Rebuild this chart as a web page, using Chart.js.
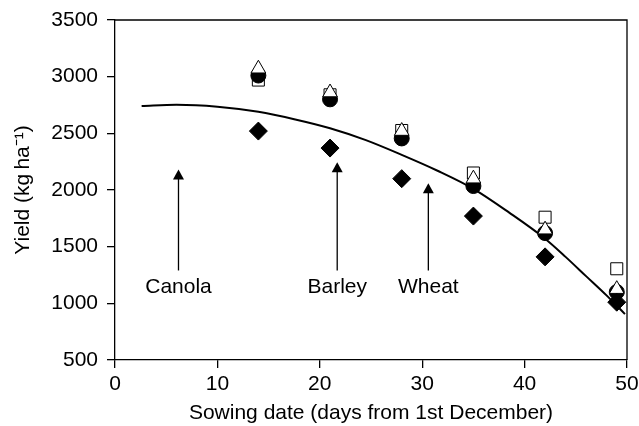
<!DOCTYPE html>
<html>
<head>
<meta charset="utf-8">
<script src="https://cdn.jsdelivr.net/npm/chart.js@4"></script>
<style>
  html, body { margin: 0; padding: 0; background: #fff; }
  #wrap { width: 639px; height: 426px; }
</style>
</head>
<body>
<div id="wrap"><canvas id="yield-chart"></canvas></div>
<script>
// sowing dates (days from 1st December)
var sowDays = [14, 21, 28, 35, 42, 49];

// yields per sowing date, kg/ha
var squareYield   = [2970, 2840, 2525, 2150, 1760, 1305];
var circleYield   = [3010, 2800, 2455, 2035, 1620, 1100];
var triangleYield = [3070, 2860, 2520, 2100, 1650, 1125];
var diamondYield  = [2520, 2370, 2100, 1770, 1410, 1010];

// fitted response curve
var fitDays  = [2.6, 6, 10, 14, 17.5, 21, 24.5, 28, 31.5, 35, 38.5, 42, 44, 46, 48, 49.8];
var fitYield = [2742, 2752, 2735, 2690, 2625, 2545, 2440, 2310, 2170, 2010, 1800, 1570, 1410, 1240, 1070, 905];

// crop arrows
var cropNames = ['Canola', 'Barley', 'Wheat'];
var cropDays  = [6.2, 21.7, 30.6];
var cropTips  = [2180, 2245, 2060];
var cropBase  = 1290;

var xTicks = [0, 10, 20, 30, 40, 50];
var yTicks = [500, 1000, 1500, 2000, 2500, 3000, 3500];

function pts(xs, ys) {
    return xs.map(function (x, i) { return { x: x, y: ys[i] }; });
}

var FONT = 'Liberation Sans, Arial, Helvetica, sans-serif';
var FSIZE = 21;

var cropArrows = {
    id: 'cropArrows',
    afterDatasetsDraw: function (chart) {
        var ctx = chart.ctx;
        var xs = chart.scales.x, ys = chart.scales.y;
        ctx.save();
        ctx.strokeStyle = '#000';
        ctx.fillStyle = '#000';
        ctx.lineWidth = 1.3;
        for (var i = 0; i < cropNames.length; i++) {
            var px = xs.getPixelForValue(cropDays[i]);
            var tip = ys.getPixelForValue(cropTips[i]);
            var base = ys.getPixelForValue(cropBase);
            ctx.beginPath();
            ctx.moveTo(px, base);
            ctx.lineTo(px, tip + 8);
            ctx.stroke();
            ctx.beginPath();
            ctx.moveTo(px, tip);
            ctx.lineTo(px - 5.5, tip + 10);
            ctx.lineTo(px + 5.5, tip + 10);
            ctx.closePath();
            ctx.fill();
            ctx.font = FSIZE + 'px ' + FONT;
            ctx.textAlign = 'center';
            ctx.textBaseline = 'middle';
            ctx.fillText(cropNames[i], px, base + 17);
        }
        ctx.restore();
    }
};

// closes the plot frame on top and right
var frame = {
    id: 'frame',
    afterDraw: function (chart) {
        var a = chart.chartArea, ctx = chart.ctx;
        ctx.save();
        ctx.strokeStyle = '#000';
        ctx.lineWidth = 1.3;
        ctx.beginPath();
        ctx.moveTo(a.left, a.top);
        ctx.lineTo(a.right, a.top);
        ctx.lineTo(a.right, a.bottom);
        ctx.stroke();
        ctx.restore();
    }
};

function plain(v) { return String(v); }

var ctx = document.getElementById('yield-chart');
var chart = new Chart(ctx, {
    type: 'scatter',
    data: {
        datasets: [{
            label: 'diamond',
            data: pts(sowDays, diamondYield),
            pointStyle: 'rectRot',
            pointRadius: 9,
            backgroundColor: '#000',
            borderColor: '#000',
            borderWidth: 1,
            order: 0
        }, {
            label: 'triangle',
            data: pts(sowDays, triangleYield),
            pointStyle: 'triangle',
            pointRadius: 8.5,
            backgroundColor: '#fff',
            borderColor: '#000',
            borderWidth: 1,
            order: 1
        }, {
            label: 'circle',
            data: pts(sowDays, circleYield),
            pointStyle: 'circle',
            pointRadius: 7.5,
            backgroundColor: '#000',
            borderColor: '#000',
            borderWidth: 1,
            order: 2
        }, {
            label: 'square',
            data: pts(sowDays, squareYield),
            pointStyle: 'rect',
            pointRadius: 8.5,
            backgroundColor: '#fff',
            borderColor: '#000',
            borderWidth: 1,
            order: 3
        }, {
            label: 'fit',
            type: 'line',
            data: pts(fitDays, fitYield),
            borderColor: '#000',
            borderWidth: 2,
            pointRadius: 0,
            fill: false,
            cubicInterpolationMode: 'monotone',
            order: 4
        }]
    },
    options: {
        responsive: true,
        maintainAspectRatio: false,
        animation: false,
        events: [],
        layout: { padding: { top: 20, right: 12, left: 0, bottom: 0 } },
        plugins: { legend: { display: false }, tooltip: { enabled: false } },
        scales: {
            x: {
                type: 'linear',
                min: 0, max: 50,
                afterBuildTicks: function (s) { s.ticks = xTicks.map(function (v) { return { value: v }; }); },
                afterFit: function (s) { s.height = 66; s.paddingLeft = 0; s.paddingRight = 0; },
                grid: { drawOnChartArea: false, drawTicks: true, tickLength: 8, color: '#000', lineWidth: 1.3 },
                border: { display: true, color: '#000', width: 1.3 },
                ticks: { color: '#000', font: { family: FONT, size: FSIZE }, padding: 4, maxRotation: 0, callback: plain },
                title: { display: true, text: 'Sowing date (days from 1st December)', color: '#000',
                         font: { family: FONT, size: FSIZE }, padding: { top: 0, bottom: 0 } }
            },
            y: {
                min: 500, max: 3500,
                afterBuildTicks: function (s) { s.ticks = yTicks.map(function (v) { return { value: v }; }); },
                afterFit: function (s) { s.width = 115; s.paddingTop = 0; s.paddingBottom = 0; },
                grid: { drawOnChartArea: false, drawTicks: true, tickLength: 8, color: '#000', lineWidth: 1.3 },
                border: { display: true, color: '#000', width: 1.3 },
                ticks: { color: '#000', font: { family: FONT, size: FSIZE }, padding: 9, callback: plain },
                title: { display: true, text: 'Yield (kg\u2009ha\u207B\u00B9)', color: '#000',
                         font: { family: FONT, size: FSIZE }, padding: { top: 11, bottom: 0 } }
            }
        }
    },
    plugins: [cropArrows, frame]
});
</script>
</body>
</html>
